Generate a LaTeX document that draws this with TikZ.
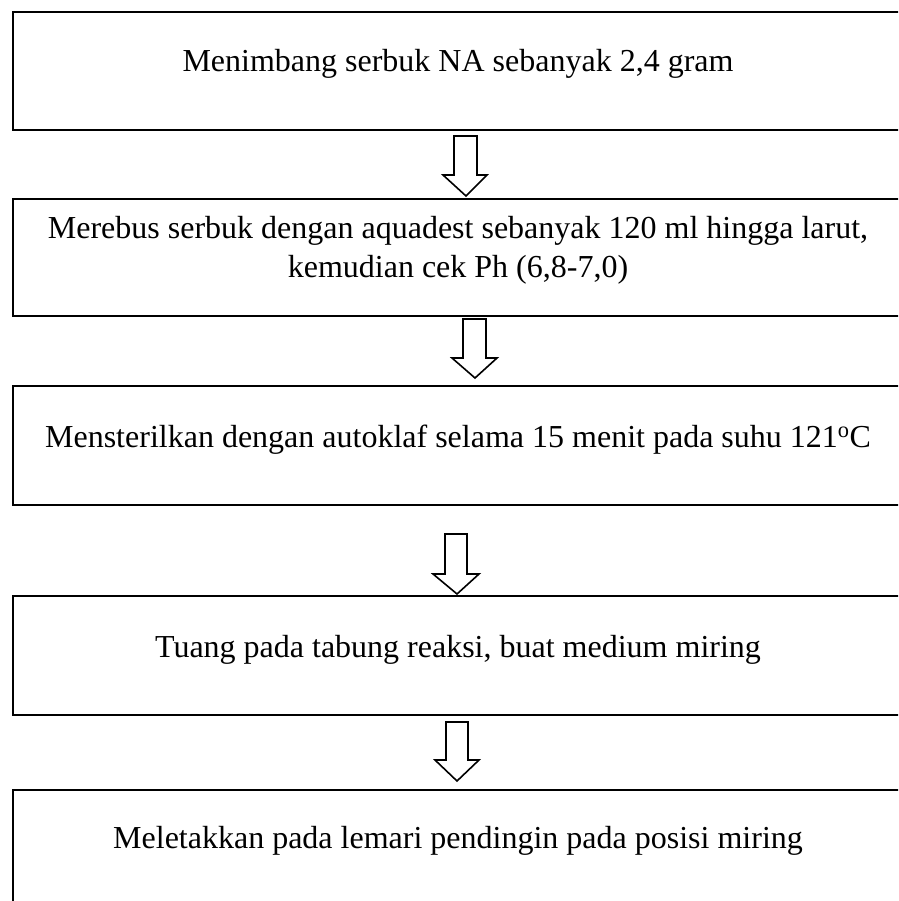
\documentclass[tikz,border=0pt]{standalone}
\usepackage{fontspec}
\setmainfont{Liberation Serif}
\begin{document}
\begin{tikzpicture}[x=1pt,y=-1pt,
  stepbox/.style={draw=black,line width=2pt},
  steptext/.style={anchor=base,inner sep=0pt,font=\fontsize{32}{38}\selectfont,align=center},
  blockarrow/.style={draw=black,line width=1.6pt,fill=white,line join=miter}]
\useasboundingbox (0,0) rectangle (898,901);
\clip (0,0) rectangle (898,901);
% process boxes (their right side runs off the page)
\draw[stepbox] (13,12) rectangle (910,130);
\draw[stepbox] (13,199) rectangle (910,316);
\draw[stepbox] (13,386) rectangle (910,505);
\draw[stepbox] (13,596) rectangle (910,715);
\draw[stepbox] (13,790) rectangle (910,915);
% step texts
\node[steptext] (t1) at (458,72) {Menimbang serbuk NA sebanyak 2,4 gram};
\node[steptext] (t2a) at (458,239) {Merebus serbuk dengan aquadest sebanyak 120 ml hingga larut,};
\node[steptext] (t2b) at (458,277) {kemudian cek Ph (6,8-7,0)};
\node[steptext] (t3) at (458,447) {Mensterilkan dengan autoklaf selama 15 menit pada suhu 121\textsuperscript{o}C};
\node[steptext] (t4) at (458,657) {Tuang pada tabung reaksi, buat medium miring};
\node[steptext] (t5) at (458,848) {Meletakkan pada lemari pendingin pada posisi miring};
% hollow arrows between the steps
\draw[blockarrow] (454,136) -- (477,136) -- (477,175) -- (487,175) -- (466,196) -- (443,175) -- (454,175) -- cycle;
\draw[blockarrow] (463,319) -- (486,319) -- (486,358) -- (497,358) -- (475,378) -- (452,358) -- (463,358) -- cycle;
\draw[blockarrow] (445,534) -- (467,534) -- (467,574) -- (479,574) -- (457,594) -- (433,574) -- (445,574) -- cycle;
\draw[blockarrow] (446,722) -- (468,722) -- (468,760) -- (479,760) -- (457,781) -- (435,760) -- (446,760) -- cycle;
\end{tikzpicture}
\end{document}
